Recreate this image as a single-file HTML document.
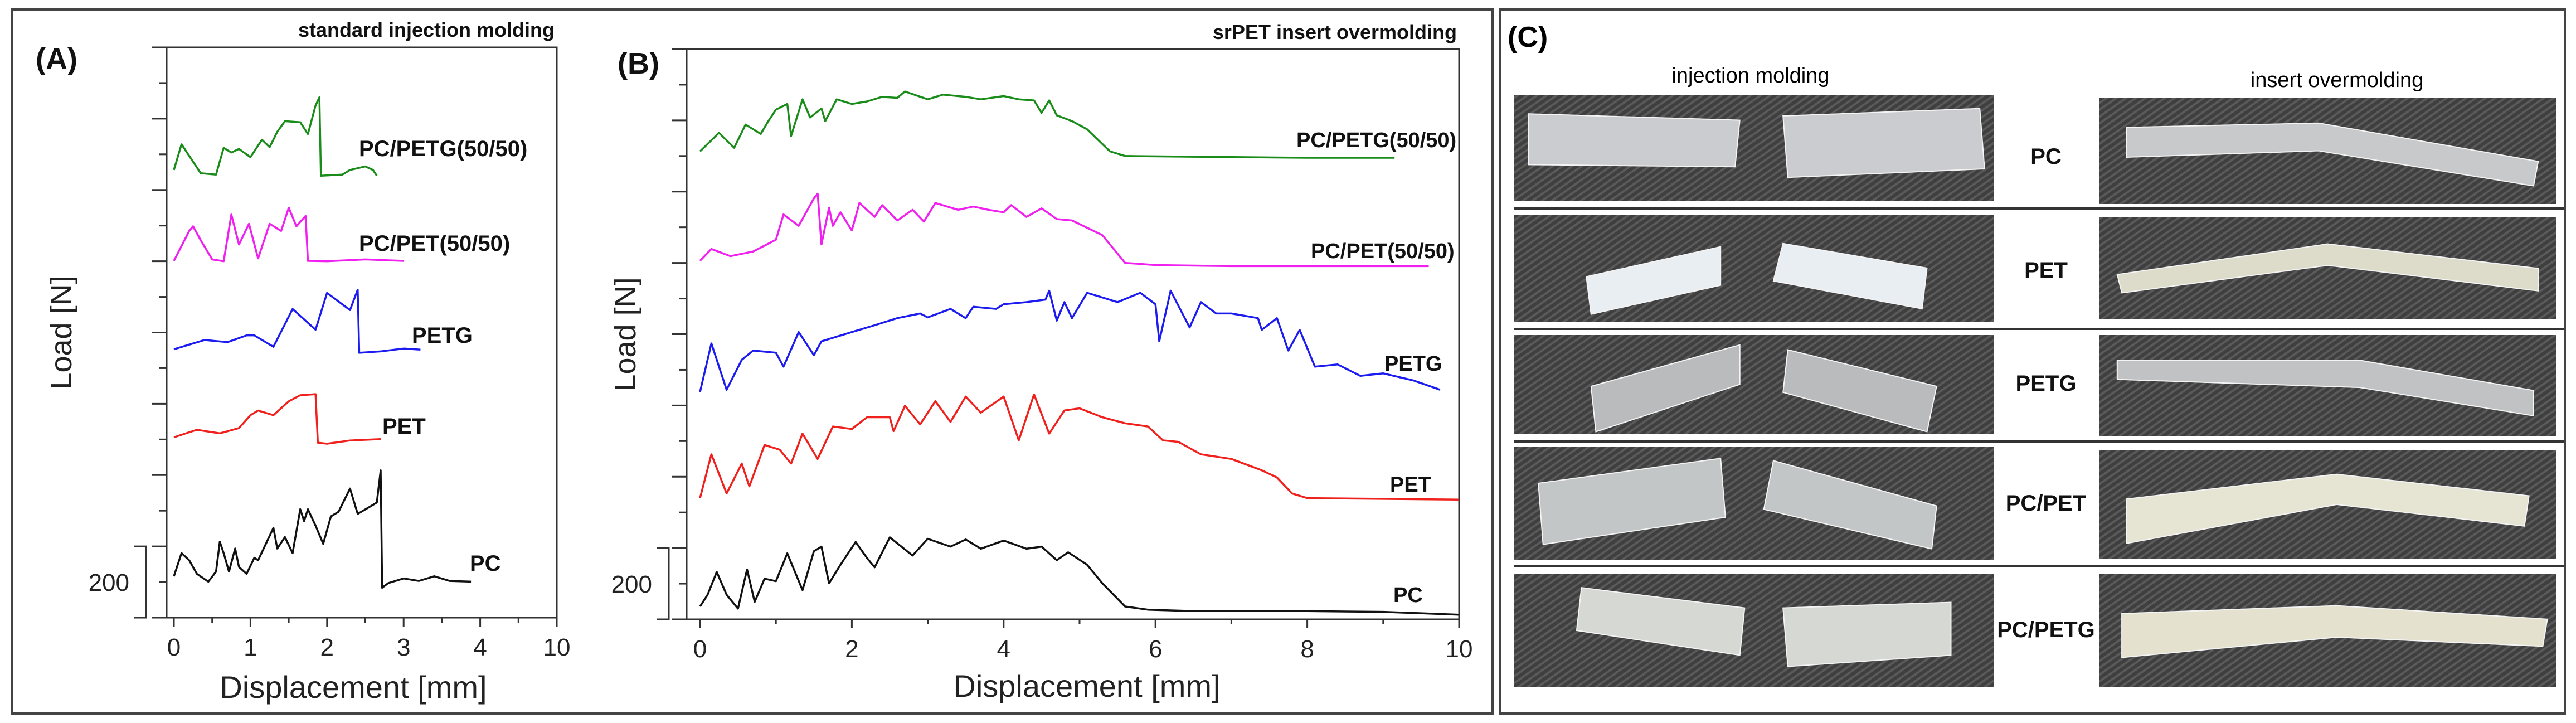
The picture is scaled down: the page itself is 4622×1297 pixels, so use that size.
<!DOCTYPE html>
<html><head><meta charset="utf-8">
<style>
html,body{margin:0;padding:0;background:#fff;}
svg{display:block;}
text{font-family:"Liberation Sans",sans-serif;}
</style></head>
<body>
<svg id="fig" width="4622" height="1297" viewBox="0 0 4622 1297" xmlns="http://www.w3.org/2000/svg">
<defs>
<pattern id="fabric" width="10" height="10" patternUnits="userSpaceOnUse" patternTransform="rotate(-35)">
<rect width="10" height="10" fill="#3f3f3f"/>
<rect width="10" height="4" fill="#5a5a5a"/>
</pattern>
</defs>
<rect x="22" y="17" width="2656" height="1263" fill="none" stroke="#444" stroke-width="4"/>
<rect x="2692" y="17" width="1910" height="1263" fill="none" stroke="#444" stroke-width="4"/>
<g id="gA"></g>
<g id="gB"></g>
<g id="gC">
<text x="2705" y="84" font-size="52" font-weight="bold">(C)</text>
<text x="3141" y="148" font-size="38" text-anchor="middle">injection molding</text>
<text x="4193" y="156" font-size="38" text-anchor="middle">insert overmolding</text>
</g>
</svg>
<script>
// ---------- Panel A data (x: displacement axis units, y: load N incl. offset) ----------
const aPC_x = [0,0.1,0.2,0.3,0.45,0.55,0.6,0.65,0.72,0.8,0.85,0.95,1.05,1.1,1.3,1.35,1.45,1.55,1.65,1.7,1.75,1.85,1.95,2.05,2.15,2.3,2.4,2.55,2.65,2.7,2.72,2.8,3.0,3.2,3.4,3.6,3.88];
const aPC_y = [116,181,161,123,101,129,213,181,129,194,142,123,168,161,252,194,226,181,304,271,304,258,207,284,297,362,291,310,323,413,84,97,110,103,116,103,101];
const aPET_x = [0,0.3,0.6,0.85,1.0,1.1,1.3,1.5,1.65,1.85,1.88,2.0,2.3,2.7];
const aPET_y = [506,527,517,532,568,581,568,607,624,627,491,488,497,501];
const aPETG_x = [0,0.4,0.7,0.95,1.05,1.3,1.55,1.85,2.0,2.3,2.4,2.42,2.7,3.0,3.22];
const aPETG_y = [753,779,773,792,792,760,866,808,911,863,920,743,747,755,752];
const aPCPET_x = [0,0.2,0.25,0.35,0.5,0.65,0.75,0.85,0.98,1.1,1.25,1.4,1.5,1.6,1.72,1.75,2.0,2.5,3.0];
const aPCPET_y = [1001,1085,1098,1059,1005,1000,1131,1047,1105,1008,1105,1085,1150,1098,1127,1001,1000,1005,1001];
const aPCPETG_x = [0,0.1,0.35,0.55,0.65,0.75,0.85,1.0,1.15,1.25,1.35,1.45,1.65,1.75,1.85,1.9,1.92,2.2,2.3,2.5,2.6,2.65];
const aPCPETG_y = [1256,1328,1247,1243,1318,1305,1315,1292,1341,1320,1363,1393,1390,1357,1437,1460,1240,1243,1256,1266,1256,1240];
const aXTicks = ["0","1","2","3","4","10"];
const aLabels = ["PC","PET","PETG","PC/PET(50/50)","PC/PETG(50/50)"];

// ---------- Panel B data ----------
const bPC_x = [0,0.1,0.22,0.35,0.5,0.62,0.72,0.85,1.0,1.15,1.35,1.5,1.6,1.7,1.85,2.05,2.2,2.3,2.5,2.8,3.0,3.3,3.5,3.7,4.0,4.3,4.5,4.7,4.85,5.1,5.3,5.6,5.9,6.5,8.0,9.0,10];
const bPC_y = [36,69,133,69,30,140,49,114,107,185,82,191,204,101,153,217,172,146,230,179,226,204,224,198,221,198,204,166,188,153,101,36,27,23,23,21,13];
const bPET_x = [0,0.15,0.35,0.55,0.65,0.85,1.05,1.2,1.35,1.55,1.75,2.0,2.2,2.5,2.55,2.7,2.9,3.1,3.3,3.5,3.7,4.0,4.2,4.4,4.6,4.8,5.0,5.3,5.6,5.9,6.1,6.3,6.6,7.0,7.4,7.6,7.8,8.0,10];
const bPET_y = [340,463,353,437,373,489,476,437,521,450,541,534,567,567,528,599,547,612,554,625,580,625,502,631,521,586,592,567,550,541,502,498,463,450,418,398,353,340,336];
const bPETG_x = [0,0.15,0.35,0.55,0.7,1.0,1.1,1.3,1.5,1.6,2.0,2.3,2.6,2.9,3.0,3.3,3.5,3.6,3.9,4.0,4.3,4.55,4.6,4.7,4.8,4.9,5.1,5.5,5.8,6.0,6.05,6.2,6.45,6.6,6.8,7.0,7.35,7.4,7.6,7.75,7.9,8.1,8.4,8.7,9.0,9.4,9.75];
const bPETG_y = [638,774,644,728,754,748,709,806,741,780,806,825,845,858,847,871,845,877,871,884,890,897,922,838,890,845,916,890,916,884,780,922,819,890,858,858,845,812,845,754,812,709,715,683,690,670,644];
const bPCPET_x = [0,0.15,0.4,0.7,1.0,1.1,1.3,1.5,1.55,1.6,1.7,1.75,1.85,2.0,2.1,2.3,2.4,2.6,2.8,2.95,3.1,3.4,3.6,3.8,4.0,4.1,4.3,4.5,4.7,4.9,5.3,5.6,6.0,7,8,9.6];
const bPCPET_y = [1006,1039,1019,1032,1065,1136,1104,1181,1194,1052,1155,1104,1142,1091,1168,1129,1162,1119,1149,1116,1168,1149,1158,1149,1142,1162,1129,1153,1123,1119,1078,1000,994,991,991,991];
const bPCPETG_x = [0,0.25,0.45,0.6,0.8,0.9,1.0,1.15,1.2,1.35,1.45,1.6,1.65,1.8,2.0,2.2,2.4,2.6,2.7,3.0,3.2,3.5,3.7,4.0,4.2,4.4,4.5,4.6,4.7,4.9,5.1,5.4,5.6,6.5,8,9.15];
const bPCPETG_y = [1313,1365,1323,1388,1362,1398,1430,1446,1356,1459,1408,1433,1398,1459,1446,1453,1466,1463,1481,1459,1472,1466,1459,1468,1459,1456,1421,1456,1414,1398,1375,1313,1300,1298,1295,1295];
const bXTicks = ["0","2","4","6","8","10"];
const bLabels = ["PC","PET","PETG","PC/PET(50/50)","PC/PETG(50/50)"];

// ---------- Panel C ----------
const cRowNames = ["PC","PET","PETG","PC/PET","PC/PETG"];

const NS = "http://www.w3.org/2000/svg";
function el(parent, tag, attrs, txt){
  const e = document.createElementNS(NS, tag);
  for (const k in attrs) e.setAttribute(k, attrs[k]);
  if (txt !== undefined) e.textContent = txt;
  parent.appendChild(e);
  return e;
}

function drawPanel(g, cfg){
  const xS = v => cfg.x0 + (v - 0) / cfg.xMax * (cfg.x1 - cfg.x0);
  const yS = v => cfg.yb - v / 1600 * (cfg.yb - cfg.yt);
  // frame
  const fr = el(g,'rect',{x:cfg.ax, y:cfg.yt, width:cfg.x1-cfg.ax, height:cfg.yb-cfg.yt, fill:'none', stroke:'#333', 'stroke-width':3});
  
  
  // y ticks
  for (let n=0;n<=1600;n+=100){
    const major = (n%200===0);
    const t = el(g,'line',{x1:cfg.ax-(major?26:14), x2:cfg.ax, y1:yS(n), y2:yS(n), stroke:'#333','stroke-width':3});
    
    
  }
  // x ticks
  const nT = cfg.xTicks.length;
  for (let i=0;i<nT;i++){
    const v = i*cfg.xStep;
    const t = el(g,'line',{x1:xS(v), x2:xS(v), y1:cfg.yb, y2:cfg.yb+16, stroke:'#333','stroke-width':3});
    
    
    const lb = el(g,'text',{x:xS(v), y:cfg.yb+68, 'font-size':44, 'text-anchor':'middle', fill:'#222'}, cfg.xTicks[i]);
    
    
    if (i<nT-1){
      const m = el(g,'line',{x1:xS(v+cfg.xStep/2), x2:xS(v+cfg.xStep/2), y1:cfg.yb, y2:cfg.yb+9, stroke:'#333','stroke-width':3});
      
      
    }
  }
  // scale bracket
  const br = el(g,'path',{d:`M${cfg.brx-22},${yS(200)} H${cfg.brx} V${yS(0)} H${cfg.brx-22}`, fill:'none', stroke:'#333','stroke-width':3});
  
  
  const bt = el(g,'text',{x:cfg.brx-30, y:yS(100)+16, 'font-size':44, 'text-anchor':'end', fill:'#222'}, '200');
  
  
  // titles
  const yt = el(g,'text',{x:0,y:0,'font-size':54,'text-anchor':'middle',fill:'#222',transform:`translate(${cfg.ytx},${(cfg.yt+cfg.yb)/2}) rotate(-90)`}, 'Load [N]');
  
  
  const xt = el(g,'text',{x:cfg.xtx, y:cfg.xty, 'font-size':56,'text-anchor':'middle',fill:'#222'}, 'Displacement [mm]');
  
  
  const pl = el(g,'text',{x:cfg.plx, y:cfg.ply, 'font-size':54,'font-weight':'bold',fill:'#111'}, cfg.panel);
  
  
  const st = el(g,'text',{x:cfg.x1-4, y:cfg.sty, 'font-size':36,'font-weight':'bold','text-anchor':'end',fill:'#111'}, cfg.subtitle);
  
  
  // series
  cfg.series.forEach((s,i)=>{
    let d='';
    for (let k=0;k<s.x.length;k++) d += (k?'L':'M') + xS(s.x[k]).toFixed(1) + ',' + yS(s.y[k]).toFixed(1);
    const p = el(g,'path',{d:d, fill:'none', stroke:s.c, 'stroke-width':3.5, 'stroke-linejoin':'round'});
    
    
    const t = el(g,'text',{x:s.lx, y:s.ly, 'font-size':cfg.lfs, 'font-weight':'bold', fill:'#111'}, cfg.labels[i]);
    
    
  });
}

drawPanel(document.getElementById('gA'), {
  ax:299, x0:312, x1:999, xMax:5, xStep:1, yt:85, yb:1108, xTicks:aXTicks, labels:aLabels,
  brx:262, ytx:128, xtx:634, xty:1252, plx:64, ply:124, panel:'(A)', subtitle:'standard injection molding', sty:66, lfs:40,
  series:[
    {key:'pc', x:aPC_x, y:aPC_y, c:'#111', lx:843, ly:1024},
    {key:'pet', x:aPET_x, y:aPET_y, c:'#f0201c', lx:686, ly:778},
    {key:'petg', x:aPETG_x, y:aPETG_y, c:'#1c1cf0', lx:739, ly:615},
    {key:'pc-pet', x:aPCPET_x, y:aPCPET_y, c:'#f020f0', lx:644, ly:450},
    {key:'pc-petg', x:aPCPETG_x, y:aPCPETG_y, c:'#1a8c1a', lx:644, ly:280}
  ]
});
drawPanel(document.getElementById('gB'), {
  ax:1232, x0:1256, x1:2618, xMax:10, xStep:2, yt:88, yb:1111, xTicks:bXTicks, labels:bLabels,
  brx:1200, ytx:1140, xtx:1950, xty:1250, plx:1108, ply:132, panel:'(B)', subtitle:'srPET insert overmolding', sty:70, lfs:38,
  series:[
    {key:'pc', x:bPC_x, y:bPC_y, c:'#111', lx:2500, ly:1080},
    {key:'pet', x:bPET_x, y:bPET_y, c:'#f0201c', lx:2494, ly:882},
    {key:'petg', x:bPETG_x, y:bPETG_y, c:'#1c1cf0', lx:2484, ly:665},
    {key:'pc-pet', x:bPCPET_x, y:bPCPET_y, c:'#f020f0', lx:2352, ly:463},
    {key:'pc-petg', x:bPCPETG_x, y:bPCPETG_y, c:'#1a8c1a', lx:2326, ly:264}
  ]
});

// ---------- Panel C photos ----------
const gC = document.getElementById('gC');
const rowsL = [[170,360],[385,577],[601,778],[802,1005],[1030,1232]];
const rowsR = [[175,366],[390,573],[601,782],[808,1002],[1030,1232]];
const labelY = [280,484,687,902,1129];
const sepY = [374,590,792,1016];
const shapesL = [
  [[[0.03,0.18],[0.47,0.24],[0.46,0.68],[0.03,0.66]],[[0.56,0.2],[0.97,0.13],[0.98,0.7],[0.57,0.78]],'#cbcccf'],
  [[[0.15,0.58],[0.43,0.3],[0.43,0.66],[0.16,0.93]],[[0.56,0.27],[0.86,0.5],[0.85,0.88],[0.54,0.62]],'#e9eef2'],
  [[[0.16,0.52],[0.47,0.1],[0.47,0.5],[0.17,0.98]],[[0.57,0.15],[0.88,0.52],[0.86,0.98],[0.56,0.58]],'#b9bbbd'],
  [[[0.05,0.32],[0.43,0.1],[0.44,0.62],[0.06,0.86]],[[0.54,0.12],[0.88,0.52],[0.87,0.9],[0.52,0.55]],'#c3c6c6'],
  [[[0.14,0.12],[0.48,0.3],[0.47,0.72],[0.13,0.5]],[[0.56,0.3],[0.91,0.25],[0.91,0.72],[0.57,0.82]],'#d6d8d4']
];
const shapesR = [
  [[[0.06,0.28],[0.48,0.24],[0.96,0.6],[0.95,0.83],[0.48,0.5],[0.06,0.56]],'#c7c9cb'],
  [[[0.04,0.56],[0.5,0.26],[0.96,0.5],[0.96,0.72],[0.5,0.47],[0.05,0.74]],'#dddbca'],
  [[[0.04,0.25],[0.57,0.25],[0.95,0.55],[0.95,0.8],[0.57,0.52],[0.04,0.44]],'#c0c2c3'],
  [[[0.06,0.45],[0.52,0.22],[0.94,0.42],[0.93,0.7],[0.52,0.5],[0.06,0.86]],'#e6e4d2'],
  [[[0.05,0.35],[0.52,0.28],[0.98,0.4],[0.97,0.64],[0.52,0.56],[0.05,0.74]],'#e4e1ce']
];
function poly(g, pts, x, y, w, h, fill, name){
  const s = pts.map(p => (x+p[0]*w).toFixed(1)+','+(y+p[1]*h).toFixed(1)).join(' ');
  const e = el(g,'polygon',{points:s, fill:fill, stroke:'#f4f4f4','stroke-width':2});
  
  
}
for (let i=0;i<5;i++){
  const lx=2717, lw=861, rx=3766, rw=821;
  const [l0,l1]=rowsL[i], [r0,r1]=rowsR[i];
  const pL = el(gC,'rect',{x:lx,y:l0,width:lw,height:l1-l0,fill:'url(#fabric)'});
  
  
  poly(gC, shapesL[i][0], lx, l0, lw, l1-l0, shapesL[i][2], 'specimen-piece-left');
  poly(gC, shapesL[i][1], lx, l0, lw, l1-l0, shapesL[i][2], 'specimen-piece-right');
  const pR = el(gC,'rect',{x:rx,y:r0,width:rw,height:r1-r0,fill:'url(#fabric)'});
  
  
  poly(gC, shapesR[i][0], rx, r0, rw, r1-r0, shapesR[i][1], 'specimen-bent-bar');
  const t = el(gC,'text',{x:3671, y:labelY[i]+14, 'font-size':40, 'font-weight':'bold', 'text-anchor':'middle', fill:'#111'}, cRowNames[i]);
  
  
  if (i<4){
    const s = el(gC,'line',{x1:2717,x2:4600,y1:sepY[i],y2:sepY[i],stroke:'#333','stroke-width':4});
    
    
  }
}
</script>
</body></html>
